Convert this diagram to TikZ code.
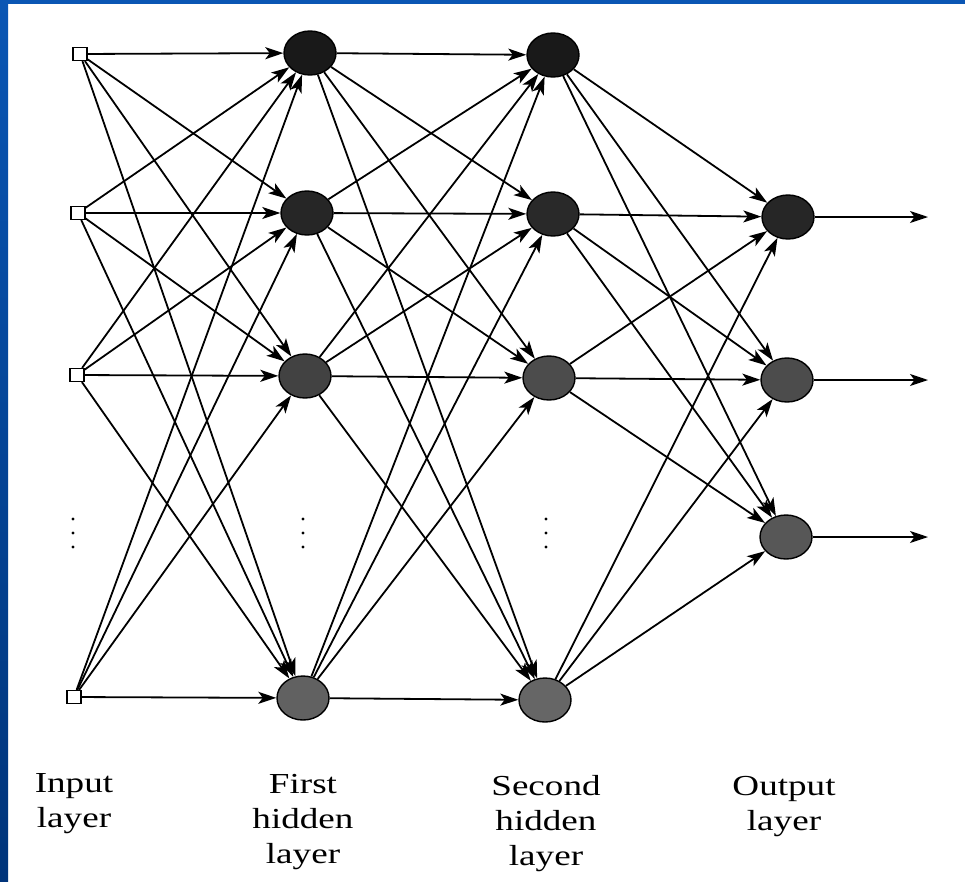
\documentclass[tikz,border=0pt]{standalone}
\usepackage{fontspec}
\usepackage{graphicx}
\setmainfont{Liberation Serif}
\usetikzlibrary{shapes.geometric,arrows.meta}
\definecolor{bordblue}{RGB}{10,86,180}
\definecolor{bordnavy}{RGB}{0,52,122}
\newcommand{\lbl}[1]{\scalebox{1.28}[1]{#1}}
\begin{document}
\begin{tikzpicture}[x=1pt,y=-1pt,
 inp/.style={draw=black,fill=white,line width=1.2pt,rectangle,minimum width=14pt,minimum height=13pt,inner sep=0pt},
 neuron/.style={draw=black,line width=1.4pt,ellipse,minimum width=52pt,minimum height=44pt,inner sep=0pt},
 conn/.style={line width=1.8pt,-{Stealth[length=18pt,width=12pt,inset=4.5pt]}},
 lab/.style={align=center,font=\fontsize{29}{35}\selectfont,inner sep=0pt,anchor=north}
]
\useasboundingbox (0,0) rectangle (965,881);
\fill[white] (0,0) rectangle (965,881);
\shade[top color=bordblue,bottom color=bordnavy] (0,0) rectangle (8,881);
\fill[bordblue] (0,0) rectangle (965,4);

% input layer
\node[inp] (i1) at (80,54) {};
\node[inp] (i2) at (78,213) {};
\node[inp] (i3) at (77,375) {};
\node[inp] (i4) at (74,697) {};
% first hidden layer
\node[neuron,fill=black!90] (a1) at (310,53) {};
\node[neuron,fill=black!85] (a2) at (307,213) {};
\node[neuron,fill=black!74] (a3) at (305,376) {};
\node[neuron,fill=black!62] (a4) at (303,698) {};
% second hidden layer
\node[neuron,fill=black!90] (b1) at (553,55) {};
\node[neuron,fill=black!84] (b2) at (553,214) {};
\node[neuron,fill=black!70] (b3) at (549,378) {};
\node[neuron,fill=black!60] (b4) at (545,700) {};
% output layer
\node[neuron,fill=black!85] (c1) at (788,217) {};
\node[neuron,fill=black!70] (c2) at (787,380) {};
\node[neuron,fill=black!66] (c3) at (786,537) {};
\coordinate (e1) at (928,217);
\coordinate (e2) at (928,380);
\coordinate (e3) at (928,537);

\foreach \i in {1,...,4}{
  \foreach \j in {1,...,4}{
    \draw[conn] (i\i) -- (a\j);
    \draw[conn] (a\i) -- (b\j);
  }
  \foreach \k in {1,2,3}{
    \draw[conn] (b\i) -- (c\k);
  }
}
\foreach \k in {1,2,3}{
  \draw[conn] (c\k) -- (e\k);
}

% ellipsis dots
\foreach \x in {73,303,546}{
  \foreach \y in {519,533,547}{
    \fill (\x,\y) circle (1.7pt);
  }
}

% labels
\node[lab] (l1) at (74,773) {\lbl{Input}\\\lbl{layer}};
\node[lab] (l2) at (303,774) {\lbl{First}\\\lbl{hidden}\\\lbl{layer}};
\node[lab] (l3) at (546,775) {\lbl{Second}\\\lbl{hidden}\\\lbl{layer}};
\node[lab] (l4) at (784,776) {\lbl{Output}\\\lbl{layer}};
\end{tikzpicture}
\end{document}
